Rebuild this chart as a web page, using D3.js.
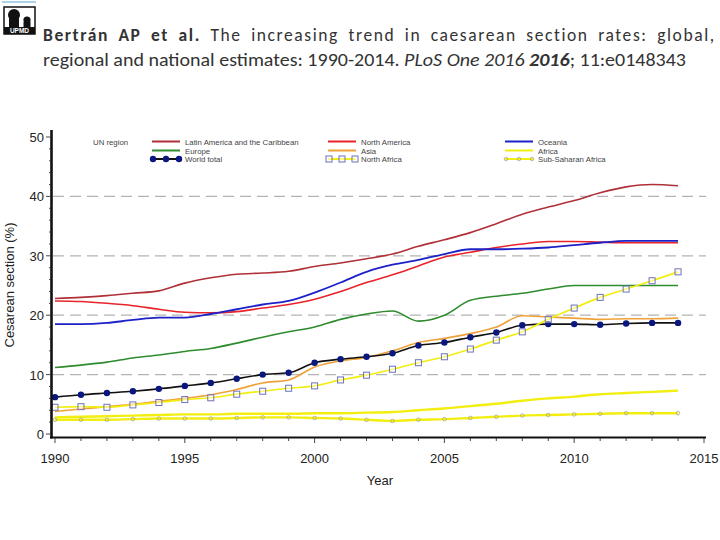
<!DOCTYPE html>
<html>
<head>
<meta charset="utf-8">
<script src="https://cdn.jsdelivr.net/npm/d3@7"></script>
<style>
  body { margin: 0; background: #fff; }
  svg { display: block; }
</style>
</head>
<body>
<div id="graf"></div>
<script>
// datos (Betran et al. 2016)
const years = d3.range(1990, 2015)

const latinAmerica = [22.8, 23.0, 23.3, 23.7, 24.1, 25.4, 26.3, 26.9, 27.1, 27.4, 28.2, 28.8, 29.5, 30.3, 31.6, 32.7, 33.9, 35.4, 37.0, 38.2, 39.3, 40.6, 41.6, 42.0, 41.8]
const northAmerica = [22.4, 22.3, 22.0, 21.6, 21.0, 20.5, 20.4, 20.6, 21.2, 21.8, 22.7, 24.0, 25.5, 26.8, 28.3, 29.8, 30.6, 31.4, 32.0, 32.4, 32.4, 32.3, 32.2, 32.2, 32.2]
const oceania = [18.5, 18.5, 18.7, 19.2, 19.6, 19.6, 20.2, 21.0, 21.8, 22.4, 23.8, 25.5, 27.3, 28.5, 29.3, 30.3, 31.1, 31.1, 31.2, 31.4, 31.8, 32.2, 32.5, 32.5, 32.5]
const europe = [11.2, 11.6, 12.1, 12.8, 13.3, 13.9, 14.4, 15.3, 16.3, 17.2, 18.0, 19.3, 20.2, 20.7, 19.0, 20.0, 22.5, 23.2, 23.7, 24.4, 25.0, 25.0, 25.0, 25.0, 25.0]
const asia = [3.8, 4.2, 4.6, 5.0, 5.5, 6.0, 6.6, 7.5, 8.6, 9.1, 11.3, 12.3, 12.9, 14.0, 15.4, 16.1, 16.9, 18.0, 19.9, 19.7, 19.5, 19.3, 19.4, 19.4, 19.5]
const africa = [2.8, 2.9, 3.0, 3.1, 3.2, 3.3, 3.3, 3.4, 3.4, 3.4, 3.5, 3.5, 3.6, 3.7, 4.0, 4.3, 4.7, 5.1, 5.6, 6.0, 6.3, 6.7, 6.9, 7.1, 7.3]
const worldTotal = [6.2, 6.6, 6.9, 7.2, 7.6, 8.1, 8.6, 9.3, 10.0, 10.3, 12.0, 12.6, 13.0, 13.6, 14.9, 15.4, 16.3, 17.1, 18.3, 18.5, 18.5, 18.4, 18.6, 18.7, 18.7]
const northAfrica = [4.5, 4.6, 4.5, 4.9, 5.3, 5.8, 6.1, 6.7, 7.2, 7.7, 8.1, 9.1, 9.9, 10.9, 12.0, 13.0, 14.3, 15.8, 17.2, 19.3, 21.2, 23.0, 24.4, 25.8, 27.3]
const subSaharan = [2.4, 2.4, 2.4, 2.5, 2.6, 2.6, 2.6, 2.7, 2.8, 2.8, 2.7, 2.6, 2.4, 2.2, 2.4, 2.5, 2.7, 2.9, 3.1, 3.2, 3.3, 3.4, 3.5, 3.5, 3.5]

const yTicks = [0, 10, 20, 30, 40, 50]
const xTicks = [1990, 1995, 2000, 2005, 2010, 2015]

// series, en orden de dibujo
const series = [
  { name: "Latin America and the Caribbean", values: latinAmerica, color: "#b03038", width: 1.6 },
  { name: "North America", values: northAmerica, color: "#e8242a", width: 1.6 },
  { name: "Oceania", values: oceania, color: "#1c22c8", width: 1.8 },
  { name: "Europe", values: europe, color: "#2e8b2e", width: 1.6 },
  { name: "Asia", values: asia, color: "#f0a23a", width: 1.6 },
  { name: "Africa", values: africa, color: "#f2ee10", width: 2.4 },
  { name: "World total", values: worldTotal, color: "#111", width: 1.6, marker: "dot" },
  { name: "North Africa", values: northAfrica, color: "#f2ee10", width: 1.7, marker: "square" },
  { name: "Sub-Saharan Africa", values: subSaharan, color: "#f2ee10", width: 2.4, marker: "circle" },
]
const legendOrder = [
  ["Latin America and the Caribbean", "Europe", "World total"],
  ["North America", "Asia", "North Africa"],
  ["Oceania", "Africa", "Sub-Saharan Africa"],
]

const anchoTotal = 720
const altoTotal = 540

const svg = d3.select("#graf")
  .append("svg")
  .attr("width", anchoTotal)
  .attr("height", altoTotal)

// Logo
const logo = svg.append("g")
logo.append("line").attr("x1", 2).attr("x2", 36).attr("y1", 2).attr("y2", 2)
  .attr("stroke", "#8fc4dc").attr("stroke-width", 1.5)
logo.append("rect").attr("x", 4).attr("y", 7).attr("width", 31).attr("height", 27)
  .attr("fill", "#fff").attr("stroke", "#111").attr("stroke-width", 1.5)
logo.append("circle").attr("cx", 14).attr("cy", 15).attr("r", 6).attr("fill", "#111")
logo.append("rect").attr("x", 9).attr("y", 18).attr("width", 10).attr("height", 9).attr("fill", "#111")
logo.append("circle").attr("cx", 27).attr("cy", 20).attr("r", 3.6).attr("fill", "#111")
logo.append("rect").attr("x", 23.5).attr("y", 22).attr("width", 7).attr("height", 5).attr("fill", "#111")
logo.append("rect").attr("x", 4).attr("y", 27).attr("width", 31).attr("height", 7).attr("fill", "#111")
logo.append("text").attr("x", 19.5).attr("y", 33).attr("text-anchor", "middle")
  .attr("font-family", "Liberation Sans Narrow, Arial, sans-serif").attr("font-size", 6.5)
  .attr("font-weight", "bold").attr("fill", "#fff").text("UPMD")

// Titulo (justificado, como en la diapositiva)
const titleFont = "Carlito, Lato, 'Open Sans', sans-serif"
const t1 = svg.append("text").attr("x", 43).attr("y", 41)
  .attr("font-family", titleFont).attr("font-size", 17.5).attr("fill", "#333")
t1.append("tspan").attr("font-weight", "bold").text("Bertrán AP et al.")
t1.append("tspan").text(" The increasing trend in caesarean section rates: global,")
const natural = t1.node().getComputedTextLength()
const txt1 = t1.text()
const nSpaces = txt1.split(" ").length - 1
const extra = Math.max(0, 671 - natural)
const ws = Math.min(extra / nSpaces, 4)
const ls = (extra - ws * nSpaces) / (txt1.length - 1)
t1.attr("word-spacing", ws).attr("letter-spacing", ls)

const t2 = svg.append("text").attr("x", 43).attr("y", 66)
  .attr("font-family", titleFont).attr("font-size", 17.5).attr("fill", "#333")
  .attr("textLength", 643).attr("lengthAdjust", "spacingAndGlyphs")
t2.append("tspan").text("regional and national estimates: 1990-2014. ")
t2.append("tspan").attr("font-style", "italic").text("PLoS One 2016 ")
t2.append("tspan").attr("font-style", "italic").attr("font-weight", "bold").text("2016")
t2.append("tspan").text("; 11:e0148343")

// Escaladores
const x = d3.scaleLinear().domain([1990, 2015]).range([55, 704])
const y = d3.scaleLinear().domain([0, 50]).range([434, 137])

const axisFont = "Arial, 'Liberation Sans', sans-serif"

// lineas de referencia
svg.append("g")
  .selectAll("line")
  .data(yTicks.filter((d) => d > 0 && d < 50))
  .join("line")
  .attr("x1", 53)
  .attr("x2", 706)
  .attr("y1", (d) => y(d))
  .attr("y2", (d) => y(d))
  .attr("stroke", "#b4b4b4")
  .attr("stroke-width", 1.3)
  .attr("stroke-dasharray", "11,6")

// series
const line = d3.line()
  .x((d, i) => x(years[i]))
  .y((d) => y(d))
  .curve(d3.curveMonotoneX)

const gSeries = svg.append("g")
series.forEach((s) => {
  gSeries.append("path")
    .datum(s.values)
    .attr("d", line)
    .attr("fill", "none")
    .attr("stroke", s.color)
    .attr("stroke-width", s.width)
})

// marcadores
const drawMarkers = (g, s, cx, cy) => {
  if (s.marker === "dot") {
    g.append("circle").attr("cx", cx).attr("cy", cy).attr("r", 3.2).attr("fill", "#0a1780")
  } else if (s.marker === "square") {
    g.append("rect").attr("x", cx - 3).attr("y", cy - 3).attr("width", 6).attr("height", 6)
      .attr("fill", "rgba(255,255,255,0.45)").attr("stroke", "#6f72b8").attr("stroke-width", 1)
  } else if (s.marker === "circle") {
    g.append("circle").attr("cx", cx).attr("cy", cy).attr("r", 1.8)
      .attr("fill", "none").attr("stroke", "#a8a890").attr("stroke-width", 0.8)
  }
}
series.filter((s) => s.marker).forEach((s) => {
  const g = svg.append("g")
  s.values.forEach((v, i) => drawMarkers(g, s, x(years[i]), y(v)))
})

// Ejes
const xAxisGroup = svg.append("g")
xAxisGroup.append("line").attr("x1", 50).attr("x2", 706).attr("y1", 437.5).attr("y2", 437.5)
  .attr("stroke", "#111").attr("stroke-width", 2.2)
xAxisGroup.selectAll("line.minor")
  .data(d3.range(1990, 2016))
  .join("line")
  .attr("class", "minor")
  .attr("x1", (d) => x(d)).attr("x2", (d) => x(d))
  .attr("y1", 438).attr("y2", (d) => (d % 5 === 0 ? 443 : 441))
  .attr("stroke", "#333").attr("stroke-width", 0.9)
xAxisGroup.selectAll("text")
  .data(xTicks)
  .join("text")
  .attr("x", (d) => x(d))
  .attr("y", 463)
  .attr("text-anchor", "middle")
  .attr("font-family", axisFont)
  .attr("font-size", 13)
  .attr("fill", "#222")
  .text((d) => d)

const yAxisGroup = svg.append("g")
yAxisGroup.append("line").attr("x1", 51.5).attr("x2", 51.5).attr("y1", 130).attr("y2", 438.5)
  .attr("stroke", "#111").attr("stroke-width", 2.6)
yAxisGroup.selectAll("line.minor")
  .data(d3.range(0, 51, 2))
  .join("line")
  .attr("class", "minor")
  .attr("x1", (d) => (d % 10 === 0 ? 46 : 49)).attr("x2", 51)
  .attr("y1", (d) => y(d)).attr("y2", (d) => y(d))
  .attr("stroke", "#333").attr("stroke-width", 0.9)
yAxisGroup.selectAll("text")
  .data(yTicks)
  .join("text")
  .attr("x", 44)
  .attr("y", (d) => y(d) + 5)
  .attr("text-anchor", "end")
  .attr("font-family", axisFont)
  .attr("font-size", 13)
  .attr("fill", "#222")
  .text((d) => d)

svg.append("text")
  .attr("x", 380).attr("y", 485)
  .attr("text-anchor", "middle")
  .attr("font-family", axisFont).attr("font-size", 13).attr("fill", "#222")
  .text("Year")
svg.append("text")
  .attr("transform", "translate(14, 285) rotate(-90)")
  .attr("text-anchor", "middle")
  .attr("font-family", axisFont).attr("font-size", 13).attr("fill", "#222")
  .text("Cesarean section (%)")

// Leyenda
const legend = svg.append("g").attr("font-family", axisFont).attr("font-size", 7.8).attr("fill", "#444")
legend.append("text").attr("x", 93).attr("y", 144.5).text("UN region")
const colX = [152, 328, 505]
const rowY = [141.5, 150.5, 159]
legendOrder.forEach((col, ci) => {
  col.forEach((name, ri) => {
    const s = series.find((d) => d.name === name)
    const lx = colX[ci]
    const ly = rowY[ri]
    legend.append("line").attr("x1", lx).attr("x2", lx + 28).attr("y1", ly).attr("y2", ly)
      .attr("stroke", s.color).attr("stroke-width", 2)
    if (s.marker) {
      ;[lx + 1, lx + 14, lx + 27].forEach((mx) => drawMarkers(legend, s, mx, ly))
    }
    legend.append("text").attr("x", lx + 33).attr("y", ly + 3).text(name)
  })
})
</script>
</body>
</html>
